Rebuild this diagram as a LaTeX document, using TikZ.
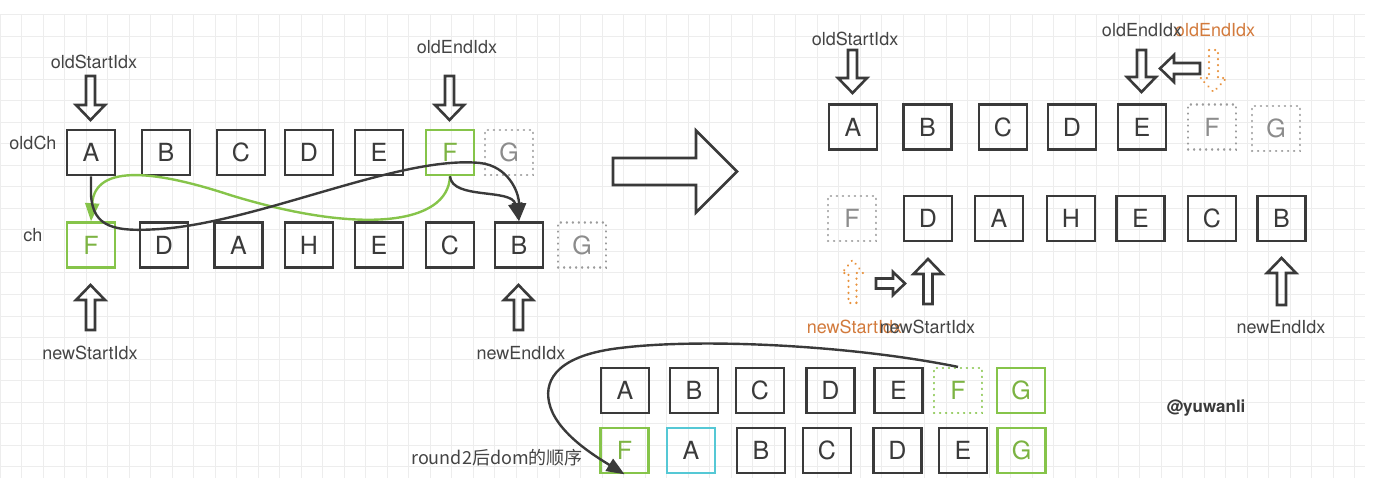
\documentclass[tikz,border=0pt]{standalone}
\usepackage{fontspec}
\setmainfont{TeX Gyre Heros}
\newfontfamily\cjk{Noto Sans CJK SC}
\usetikzlibrary{arrows.meta}
\definecolor{dk}{HTML}{3A3A3A}
\definecolor{txt}{HTML}{444444}
\definecolor{grn}{HTML}{86C44A}
\definecolor{grntxt}{HTML}{7CB342}
\definecolor{cyn}{HTML}{55C8D5}
\definecolor{org}{HTML}{E8923D}
\definecolor{orgtxt}{HTML}{D27A3C}
\definecolor{gdot}{HTML}{9C9C9C}
\definecolor{gtxt}{HTML}{8C8C8C}
\definecolor{gridc}{HTML}{EDEDED}
\begin{document}
\begin{tikzpicture}[x=0.5pt,y=-0.5pt,
 bx/.style={draw=dk, line width=1.3pt, minimum width=24pt, minimum height=22.5pt, inner sep=0pt, font=\fontsize{12.5}{14}\selectfont, text=dk},
 gbx/.style={bx, draw=grn, text=grntxt},
 cbx/.style={bx, draw=cyn},
 dotpat/.style={line width=1.1pt, dash pattern=on 0.1pt off 2.9pt, line cap=round},
 dbx/.style={bx, draw=gdot, text=gtxt, dotpat},
 gdbx/.style={bx, draw=grn, text=grntxt, dotpat},
 lbl/.style={font=\fontsize{9}{11}\selectfont, text=txt, inner sep=0pt},
 olbl/.style={lbl, text=orgtxt},
 harr/.style={draw=dk, line width=1.3pt, line join=miter},
 oarr/.style={draw=org, dotpat},
 cv/.style={draw=dk, line width=1.2pt, -{Triangle[width=7pt,length=9pt]}},
 gcv/.style={draw=grn, line width=1.2pt, -{Triangle[width=7pt,length=9pt]}},
 pics/harrow/.style n args={5}{code={
   \path[#5] (-#3/2,0) -- (#3/2,0) -- (#3/2,#1-#4) -- (#2/2,#1-#4) -- (0,#1) -- (-#2/2,#1-#4) -- (-#3/2,#1-#4) -- cycle;
 }}
]
\useasboundingbox (0,0) rectangle (1384,496);
% grid
\foreach \gx in {0,21.5,...,1365} \draw[gridc, line width=0.5pt] (\gx,15) -- (\gx,478);
\foreach \gy in {15,36.5,...,478} \draw[gridc, line width=0.5pt] (0,\gy) -- (1365,\gy);

% ---------- left part ----------
\node[lbl] (lOldCh) at (33,143) {oldCh};
\node[lbl] (lCh) at (33,235) {ch};
\node[bx] (oA) at (91,152.5) {A};
\node[bx] (oB) at (166,152.5) {B};
\node[bx] (oC) at (241,152.5) {C};
\node[bx] (oD) at (309,152.5) {D};
\node[bx] (oE) at (379,152.5) {E};
\node[gbx] (oF) at (450,152.5) {F};
\node[dbx] (oG) at (509,152.5) {G};

\node[gbx] (nF) at (91,245) {F};
\node[bx] (nD) at (164,245) {D};
\node[bx] (nA) at (238.5,245) {A};
\node[bx] (nH) at (309,245) {H};
\node[bx] (nE) at (379,245) {E};
\node[bx] (nC) at (450,245) {C};
\node[bx] (nB) at (519,245) {B};
\node[dbx] (nG) at (582,245) {G};

\node[lbl] (lOS) at (94,62) {oldStartIdx};
\node[lbl] (lOE) at (457,47) {oldEndIdx};
\node[lbl] (lNS) at (90,353) {newStartIdx};
\node[lbl] (lNE) at (521,353) {newEndIdx};
\pic at (90.5,76) {harrow={44}{29}{9}{15}{harr}};
\pic at (449.5,76) {harrow={44}{29}{9}{15}{harr}};
\pic[rotate=180] at (90.5,330) {harrow={45}{29}{9}{15}{harr}};
\pic[rotate=180] at (518.5,330) {harrow={45}{29}{9}{15}{harr}};

% curves
\draw[gcv] (oF.south) .. controls (448,225) and (360,235) .. (230,195) .. controls (160,172) and (95,162) .. (nF.north);
\draw[cv] (oA.south) -- (91,195) .. controls (93,228) and (115,232) .. (160,229) .. controls (260,222) and (400,155) .. (480,163) .. controls (508,166) and (519,192) .. (nB.north);
\draw[cv] (oF.south) .. controls (452,200) and (512,188) .. (nB.north);

% big arrow
\pic[rotate=90] at (613,171.5) {harrow={124}{82}{27}{41}{harr}};

% ---------- right part ----------
\node[bx] (rA) at (853,127) {A};
\node[bx] (rB) at (927.5,127) {B};
\node[bx] (rC) at (1003,127) {C};
\node[bx] (rD) at (1072,127) {D};
\node[bx] (rE) at (1142,127) {E};
\node[dbx] (rF) at (1212,127) {F};
\node[dbx] (rG) at (1276,128.5) {G};

\node[dbx] (rnF) at (852,218.5) {F};
\node[bx] (rnD) at (928,218.5) {D};
\node[bx] (rnA) at (999,218.5) {A};
\node[bx] (rnH) at (1071,218.5) {H};
\node[bx] (rnE) at (1140.5,218.5) {E};
\node[bx] (rnC) at (1212,218.5) {C};
\node[bx] (rnB) at (1281.5,218.5) {B};

\node[lbl] (rOS) at (855,39) {oldStartIdx};
\node[olbl] (rOE2) at (1215,30) {oldEndIdx};
\node[lbl] (rOE) at (1142,30) {oldEndIdx};
\node[olbl] (rNS2) at (854.5,327) {newStartIdx};
\node[lbl] (rNS) at (927.5,327) {newStartIdx};
\node[lbl] (rNE) at (1281,327) {newEndIdx};

\pic at (852.5,50) {harrow={43}{29}{9}{15}{harr}};
\pic at (1141.5,50) {harrow={42}{29}{9}{15}{harr}};
\pic[rotate=-90] at (1200,68.5) {harrow={40}{27}{11}{14}{harr}};
\pic at (1213.5,50) {harrow={42}{26}{9}{14}{oarr}};
\pic[rotate=180] at (852.5,303) {harrow={43}{21}{8}{13}{oarr}};
\pic[rotate=90] at (876,283.5) {harrow={29}{23}{10}{12}{harr}};
\pic[rotate=180] at (928,304) {harrow={45}{29}{9}{15}{harr}};
\pic[rotate=180] at (1281.5,305) {harrow={47}{29}{9}{15}{harr}};

% ---------- bottom ----------
\node[bx] (bA1) at (625,390.5) {A};
\node[bx] (bB1) at (694,390.5) {B};
\node[bx] (bC1) at (760,390.5) {C};
\node[bx] (bD1) at (830.5,390.5) {D};
\node[bx] (bE1) at (898.5,390.5) {E};
\node[gdbx] (bF1) at (958,390.5) {F};
\node[gbx] (bG1) at (1021,390.5) {G};

\node[gbx] (bF2) at (624.5,450.5) {F};
\node[cbx] (bA2) at (691,450.5) {A};
\node[bx] (bB2) at (761,450.5) {B};
\node[bx] (bC2) at (827,450.5) {C};
\node[bx] (bD2) at (897.5,450.5) {D};
\node[bx] (bE2) at (963,450.5) {E};
\node[gbx] (bG2) at (1021.5,450.5) {G};

\node[lbl, font=\cjk\fontsize{9}{11}\selectfont] (lRound) at (497,458) {round2后dom的顺序};
\node[lbl, font=\bfseries\fontsize{8.5}{10}\selectfont, text=dk] (wm) at (1206,408) {@yuwanli};

\draw[cv] (bF1.north) .. controls (850,345) and (700,338) .. (620,348) .. controls (560,355) and (544,378) .. (549,402) .. controls (555,432) and (595,456) .. (bF2.south);
\end{tikzpicture}
\end{document}
